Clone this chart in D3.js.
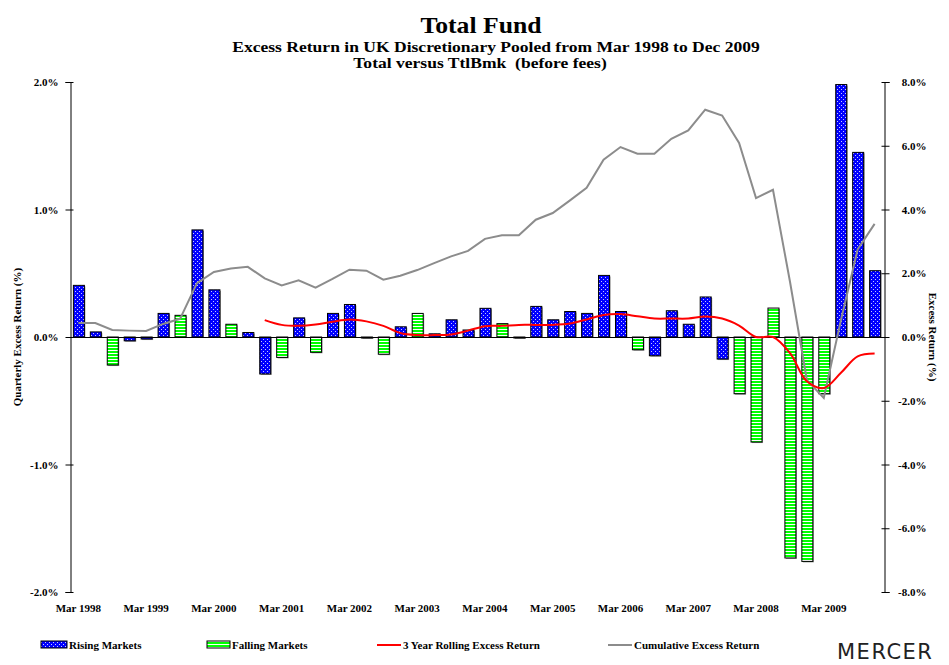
<!DOCTYPE html>
<html>
<head>
<meta charset="utf-8">
<script src="https://cdn.jsdelivr.net/npm/d3@7"></script>
<style>
  body { margin: 0; background: #fff; }
  svg text { font-family: "Liberation Serif", "Times New Roman", serif; font-weight: bold; }
</style>
</head>
<body>
<div id="chart"></div>
<script>
// quarter labels, Mar 1998 .. Dec 2009
var quarters = [];
for (var yr = 1998; yr <= 2009; yr++) {
	["Mar", "Jun", "Sep", "Dec"].forEach(function(m) { quarters.push(m + " " + yr); });
}

// quarterly excess return (%), left axis
var quarterly = [0.405, 0.04, -0.22, -0.03, -0.016, 0.185, 0.17, 0.84,
	0.37, 0.10, 0.035, -0.29, -0.16, 0.15, -0.12, 0.185,
	0.255, -0.005, -0.135, 0.08, 0.185, 0.025, 0.135, 0.055,
	0.225, 0.105, -0.005, 0.24, 0.135, 0.20, 0.185, 0.483,
	0.20, -0.10, -0.147, 0.206, 0.10, 0.314, -0.173, -0.445,
	-0.824, 0.227, -1.733, -1.76, -0.445, 1.98, 1.448, 0.52];

// market direction each quarter: R = rising, F = falling
var market = ["R","R","F","R","R","R","F","R",
	"R","F","R","R","F","R","F","R",
	"R","R","F","R","F","R","R","R",
	"R","F","R","R","R","R","R","R",
	"R","F","R","R","R","R","R","F",
	"F","F","F","F","F","R","R","R"];

// 3 year rolling excess return (%), right axis
var rolling = [null,null,null,null,null,null,null,null,null,null,null,0.53,
	0.38, 0.35, 0.39, 0.48, 0.55, 0.49, 0.35, 0.125,
	0.06, 0.06, 0.08, 0.20, 0.34, 0.35, 0.38, 0.38,
	0.38, 0.42, 0.55, 0.69, 0.72, 0.65, 0.58, 0.58,
	0.58, 0.64, 0.58, 0.36, 0.0, 0.0, -0.50, -1.39,
	-1.60, -1.13, -0.61, -0.52];

// cumulative excess return (%), right axis
var cumulative = [0.44, 0.44, 0.22, 0.20, 0.19, 0.41, 0.57, 1.69,
	2.04, 2.15, 2.20, 1.84, 1.62, 1.78, 1.55, 1.82,
	2.11, 2.08, 1.80, 1.92, 2.10, 2.32, 2.53, 2.70,
	3.08, 3.19, 3.19, 3.68, 3.89, 4.28, 4.68, 5.56,
	5.96, 5.75, 5.75, 6.22, 6.48, 7.13, 6.95, 6.09,
	4.36, 4.62, 1.75, -1.35, -1.91, 0.50, 2.75, 3.55];

var leftTicks = [-2, -1, 0, 1, 2];
var rightTicks = [-8, -6, -4, -2, 0, 2, 4, 6, 8];

var width = 949, height = 665;
var plot = {left: 70, right: 884, top: 82, bottom: 592};

var svg = d3.select("#chart").append("svg")
	.attr("width", width)
	.attr("height", height);

// fill patterns
var defs = svg.append("defs");
var dots = defs.append("pattern").attr("id", "dots")
	.attr("patternUnits", "userSpaceOnUse").attr("width", 4).attr("height", 4);
dots.append("rect").attr("width", 4).attr("height", 4).attr("fill", "#0000ff");
dots.append("rect").attr("x", 1).attr("y", 1).attr("width", 1).attr("height", 1).attr("fill", "#c8c8ff");
dots.append("rect").attr("x", 3).attr("y", 3).attr("width", 1).attr("height", 1).attr("fill", "#c8c8ff");

var stripes = defs.append("pattern").attr("id", "stripes")
	.attr("patternUnits", "userSpaceOnUse").attr("width", 4).attr("height", 3);
stripes.append("rect").attr("width", 4).attr("height", 3).attr("fill", "#00ff00");
stripes.append("rect").attr("y", 2).attr("width", 4).attr("height", 1).attr("fill", "#ffffff");

// scales
var x = d3.scaleBand()
	.domain(quarters)
	.range([plot.left, plot.right - 1])
	.paddingInner(0.35)
	.paddingOuter(0.17);

var yL = d3.scaleLinear().domain([-2, 2]).range([plot.bottom, plot.top]);
var yR = d3.scaleLinear().domain([-8, 8]).range([plot.bottom, plot.top]);

// titles (stretched sideways a little, the original face is a wide-set Times)
svg.append("text")
	.attr("transform", "translate(481,33) scale(1.07,1)")
	.attr("text-anchor", "middle").style("font-size", "24px")
	.text("Total Fund");
svg.append("text")
	.attr("transform", "translate(496,52) scale(1.17,1)")
	.attr("text-anchor", "middle").style("font-size", "15px")
	.text("Excess Return in UK Discretionary Pooled from Mar 1998 to Dec 2009");
svg.append("text")
	.attr("transform", "translate(480,68) scale(1.17,1)")
	.attr("text-anchor", "middle").style("font-size", "15px")
	.style("white-space", "pre")
	.text("Total versus TtlBmk  (before fees)");

// bars: shadow first, then bar
var bars = svg.append("g");
quarterly.forEach(function(v, i) {
	var q = quarters[i];
	var y0 = yL(Math.max(v, 0));
	var h = Math.max(Math.abs(yL(v) - yL(0)), 1);
	bars.append("rect")
		.attr("x", x(q) + 1.5).attr("y", y0 + 1)
		.attr("width", x.bandwidth()).attr("height", h)
		.attr("fill", "#999");
	bars.append("rect")
		.attr("x", x(q) + 0.5).attr("y", y0)
		.attr("width", x.bandwidth()).attr("height", h)
		.attr("fill", market[i] == "R" ? "url(#dots)" : "url(#stripes)")
		.attr("stroke", "#000").attr("stroke-width", 1);
});

// zero line
svg.append("line")
	.attr("x1", plot.left).attr("x2", plot.right)
	.attr("y1", yL(0) + 0.5).attr("y2", yL(0) + 0.5)
	.attr("stroke", "#000");

// lines
var xc = function(i) { return x(quarters[i]) + x.bandwidth() / 2; };

var cumLine = d3.line()
	.x(function(d, i) { return xc(i); })
	.y(function(d) { return yR(d); });
svg.append("path")
	.datum(cumulative)
	.attr("d", cumLine)
	.attr("fill", "none").attr("stroke", "#8c8c8c").attr("stroke-width", 2);

var rollLine = d3.line()
	.defined(function(d) { return d !== null; })
	.x(function(d, i) { return xc(i); })
	.y(function(d) { return yR(d); })
	.curve(d3.curveCatmullRom);
svg.append("path")
	.datum(rolling)
	.attr("d", rollLine)
	.attr("fill", "none").attr("stroke", "#ff0000").attr("stroke-width", 2);

// left axis
var axL = svg.append("g")
	.attr("transform", "translate(" + (plot.left + 0.5) + ",0)")
	.call(d3.axisLeft(yL).tickValues(leftTicks).tickSizeOuter(0).tickSize(5).tickPadding(7)
		.tickFormat(function(d) { return d.toFixed(1) + "%"; }));
axL.selectAll(".tick line").attr("x2", -5).attr("x1", 3);
axL.selectAll("text").style("font-size", "11px").attr("font-family", null);

// right axis
var axR = svg.append("g")
	.attr("transform", "translate(" + (plot.right + 0.5) + ",0)")
	.call(d3.axisRight(yR).tickValues(rightTicks).tickSizeOuter(0).tickSize(5)
		.tickFormat(function(d) { return d.toFixed(1) + "%"; }));
axR.selectAll(".tick line").attr("x1", -3).attr("x2", 5);
axR.selectAll("text").style("font-size", "11px").attr("font-family", null)
	.attr("text-anchor", "end").attr("x", 42);

// x labels at each March
quarters.forEach(function(q, i) {
	if (i % 4 != 0) return;
	svg.append("text")
		.attr("x", xc(i)).attr("y", 612)
		.attr("text-anchor", "middle").style("font-size", "11px")
		.text(q);
});

// axis titles
svg.append("text")
	.attr("transform", "translate(21," + yL(0) + ") rotate(-90)")
	.attr("text-anchor", "middle").style("font-size", "11px")
	.text("Quarterly Excess Return (%)");
svg.append("text")
	.attr("transform", "translate(929," + yL(0) + ") rotate(90)")
	.attr("text-anchor", "middle").style("font-size", "11px")
	.text("Excess Return (%)");

// legend
var leg = svg.append("g").attr("transform", "translate(0,645)");
leg.append("rect").attr("x", 41).attr("y", -4).attr("width", 26).attr("height", 7)
	.attr("fill", "url(#dots)").attr("stroke", "#000");
leg.append("text").attr("x", 69).attr("y", 4).style("font-size", "11px").text("Rising Markets");
leg.append("rect").attr("x", 207).attr("y", -4).attr("width", 23).attr("height", 7)
	.attr("fill", "url(#stripes)").attr("stroke", "#000");
leg.append("text").attr("x", 232).attr("y", 4).style("font-size", "11px").text("Falling Markets");
leg.append("line").attr("x1", 377).attr("x2", 401).attr("y1", 0).attr("y2", 0)
	.attr("stroke", "#ff0000").attr("stroke-width", 2);
leg.append("text").attr("x", 403).attr("y", 4).style("font-size", "11px").text("3 Year Rolling Excess Return");
leg.append("line").attr("x1", 608).attr("x2", 632).attr("y1", 0).attr("y2", 0)
	.attr("stroke", "#8c8c8c").attr("stroke-width", 2);
leg.append("text").attr("x", 634).attr("y", 4).style("font-size", "11px").text("Cumulative Excess Return");

// logo
svg.append("text").attr("x", 837).attr("y", 659)
	.style("font-family", "'DejaVu Sans', sans-serif").style("font-weight", "normal")
	.style("font-size", "21px").style("letter-spacing", "1.5px").attr("fill", "#222")
	.text("MERCER");
</script>
</body>
</html>
